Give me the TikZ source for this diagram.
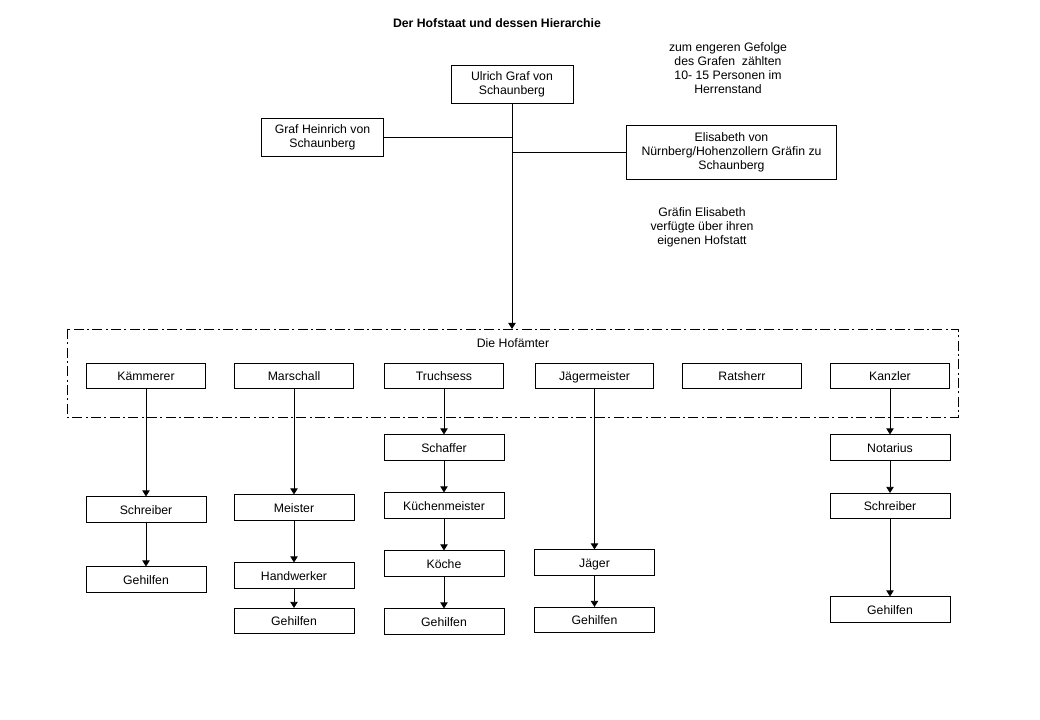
\documentclass[tikz,border=0pt]{standalone}
\usepackage{fontspec}
\setmainfont{Liberation Sans}
\usetikzlibrary{arrows.meta,positioning}

\begin{document}
\begin{tikzpicture}[
  x=0.75pt, y=-0.75pt,
  box/.style={draw, line width=0.6pt, align=center, font=\fontsize{9.2}{10.6}\selectfont, inner sep=0pt},
  office/.style={box, minimum width=89pt, minimum height=18.5pt, text height=7.6pt, text depth=0.8pt},
  staff/.style={box, minimum width=90pt, minimum height=19pt, text height=7.8pt, text depth=0.8pt},
  note/.style={align=center, font=\fontsize{9.2}{10.6}\selectfont, inner sep=0pt},
  link/.style={line width=0.6pt},
  >={Triangle[width=5.5pt,length=4.5pt]}
]
\useasboundingbox (0,0) rectangle (1040,720);

% Titel und Anmerkungen
\node[note, font=\bfseries\fontsize{9.2}{10.6}\selectfont] (title) at (497,23) {Der Hofstaat und dessen Hierarchie};
\node[note] (gefolge) at (728,68) {zum engeren Gefolge\\des Grafen \ zählten\\10- 15 Personen im\\Herrenstand};
\node[note] (hofstatt) at (702,227) {Gräfin Elisabeth\\verfügte über ihren\\eigenen Hofstatt};

% Grafenfamilie
\node[box, minimum width=91.5pt, minimum height=29pt] (ulrich) at (512,84.5) {Ulrich Graf von\\Schaunberg};
\node[box, minimum width=91pt, minimum height=29pt] (heinrich) at (322.5,137.5) {Graf Heinrich von\\Schaunberg};
\node[box, minimum width=158pt, minimum height=40.5pt] (elisabeth) at (731.5,152) {Elisabeth von\\Nürnberg/Hohenzollern Gräfin zu\\Schaunberg};

% Hofaemter
\draw[line width=0.6pt, dash pattern=on 7.5pt off 2.5pt on 1.5pt off 2.5pt] (67,329) rectangle (958,417);
\node[note] (hofaemter) at (513,343) {Die Hofämter};
\coordinate (top) at (512,329);

\node[office] (kaemmerer) at (146,376) {Kämmerer};
\node[office] (marschall) at (294,376) {Marschall};
\node[office] (truchsess) at (444,376) {Truchsess};
\node[office] (jaeger) at (594.5,376) {Jägermeister};
\node[office] (ratsherr) at (742,376) {Ratsherr};
\node[office] (kanzler) at (890,376) {Kanzler};

% Unterstellte
\node[staff] (k1) at (146,509.5) {Schreiber};
\node[staff] (k2) at (146,579.5) {Gehilfen};

\node[staff] (m1) at (294,507.5) {Meister};
\node[staff] (m2) at (294,575.5) {Handwerker};
\node[staff] (m3) at (294,621) {Gehilfen};

\node[staff] (t1) at (444,447.5) {Schaffer};
\node[staff] (t2) at (444,505.5) {Küchenmeister};
\node[staff] (t3) at (444,563.5) {Köche};
\node[staff] (t4) at (444,621.5) {Gehilfen};

\node[staff] (j1) at (594.5,562.5) {Jäger};
\node[staff] (j2) at (594.5,620) {Gehilfen};

\node[staff] (n1) at (890,447.5) {Notarius};
\node[staff] (n2) at (890,506) {Schreiber};
\node[staff] (n3) at (890,609.5) {Gehilfen};

% Verbindungen
\draw[link, ->] (ulrich) -- (top);
\draw[link] (heinrich.east) -- (heinrich.east -| ulrich.south);
\draw[link] (elisabeth.west) -- (elisabeth.west -| ulrich.south);

\draw[link, ->] (kaemmerer) -- (k1);
\draw[link, ->] (k1) -- (k2);
\draw[link, ->] (marschall) -- (m1);
\draw[link, ->] (m1) -- (m2);
\draw[link, ->] (m2) -- (m3);
\draw[link, ->] (truchsess) -- (t1);
\draw[link, ->] (t1) -- (t2);
\draw[link, ->] (t2) -- (t3);
\draw[link, ->] (t3) -- (t4);
\draw[link, ->] (jaeger) -- (j1);
\draw[link, ->] (j1) -- (j2);
\draw[link, ->] (kanzler) -- (n1);
\draw[link, ->] (n1) -- (n2);
\draw[link, ->] (n2) -- (n3);
\end{tikzpicture}
\end{document}
